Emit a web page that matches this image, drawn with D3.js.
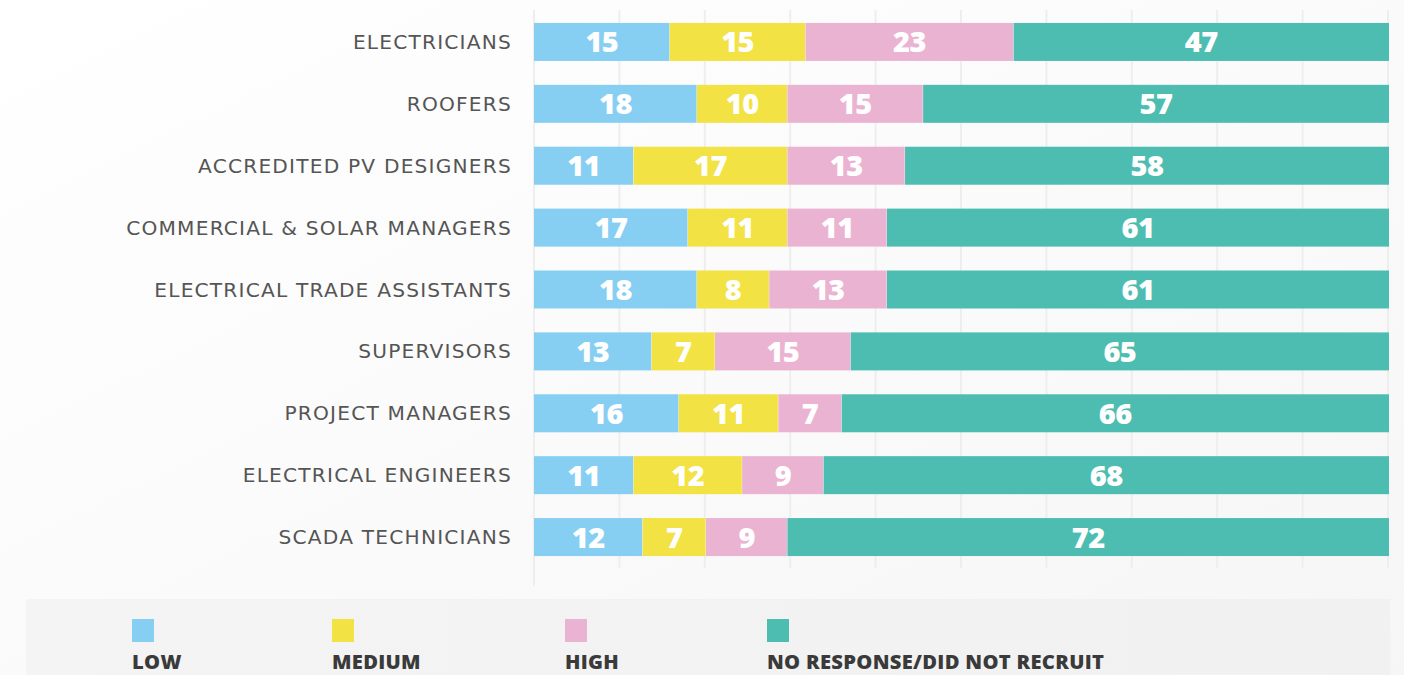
<!DOCTYPE html>
<html><head><meta charset="utf-8">
<script src="https://cdn.jsdelivr.net/npm/d3@7"></script>
<style>
html,body{margin:0;padding:0;background:#fff;overflow:hidden}
svg{display:block}
</style></head>
<body><svg id="c" width="1404" height="675"></svg>
<script>
const categories = ["ELECTRICIANS","ROOFERS","ACCREDITED PV DESIGNERS","COMMERCIAL & SOLAR MANAGERS","ELECTRICAL TRADE ASSISTANTS","SUPERVISORS","PROJECT MANAGERS","ELECTRICAL ENGINEERS","SCADA TECHNICIANS"];
const seriesNames = ["LOW","MEDIUM","HIGH","NO RESPONSE/DID NOT RECRUIT"];
const low = [15,18,11,17,18,13,16,11,12];
const medium = [15,10,17,11,8,7,11,12,7];
const high = [23,15,13,11,13,15,7,9,9];
const noResponse = [47,57,58,61,61,65,66,68,72];
const gridTicks = [0,1,2,3,4,5,6,7,8,9,10];
const colors = ["#87cef3","#f2e244","#ebb3d2","#4dbdb1"];

const svg = d3.select("#c");
const defs = svg.append("defs");
const g1 = defs.append("linearGradient").attr("id","bg").attr("x1","0").attr("y1","0").attr("x2","1").attr("y2","1");
g1.append("stop").attr("offset","0").attr("stop-color","#ffffff");
g1.append("stop").attr("offset","1").attr("stop-color","#f6f6f6");
svg.append("rect").attr("width",1404).attr("height",675).attr("fill","url(#bg)");

const plotLeft = 534, plotRight = 1389;
// value scale as drawn in the source (last segment fills to the plot edge)
const x = d3.scaleLinear().domain([0,100]).range([plotLeft,1439]);
const grid = d3.scaleLinear().domain([0,10]).range([plotLeft,plotRight-1]);
const y = d3.scaleBand().domain(categories).range([11,568]).paddingInner(0.386).paddingOuter(0.193);

function fitText(sel, key, target, baseSize, maxSpacing){
  const node = sel.filter(d=>d===key).node();
  sel.attr("font-size",baseSize).attr("letter-spacing",0);
  const w = node.getComputedTextLength();
  const n = key.length;
  if (w > target) {
    sel.attr("font-size", baseSize*target/w);
  } else {
    let ls = (target-w)/(n-1);
    if (ls > maxSpacing) {
      const size = baseSize*(target-maxSpacing*(n-1))/w;
      sel.attr("font-size",size);
      ls = maxSpacing;
    }
    sel.attr("letter-spacing",ls);
  }
}

// gridlines
svg.append("g").selectAll("line").data(gridTicks).join("line")
  .attr("x1",d=>grid(d)).attr("x2",d=>grid(d))
  .attr("y1",10).attr("y2",(d,i)=> i===0 ? 586 : 568)
  .attr("stroke","#eeeeee").attr("stroke-width",2);

const rows = categories.map((c,i)=>({cat:c, LOW:low[i], MEDIUM:medium[i], HIGH:high[i], "NO RESPONSE/DID NOT RECRUIT":noResponse[i]}));
const stack = d3.stack().keys(seriesNames)(rows);
const x0 = d=>x(d[0]);
const x1 = (d,last)=> last ? plotRight : Math.min(x(d[1]),plotRight);

const layers = svg.append("g").selectAll("g").data(stack).join("g").attr("fill",(d,i)=>colors[i]);
layers.each(function(layer,li){
  const last = li===stack.length-1;
  const g = d3.select(this);
  g.selectAll("rect").data(layer).join("rect")
    .attr("x",x0).attr("width",d=>x1(d,last)-x0(d))
    .attr("y",d=>y(d.data.cat)).attr("height",y.bandwidth());
  if(!last){
    g.selectAll("line").data(layer).join("line")
      .attr("x1",d=>x1(d,last)).attr("x2",d=>x1(d,last))
      .attr("y1",d=>y(d.data.cat)).attr("y2",d=>y(d.data.cat)+y.bandwidth())
      .attr("stroke","#ffffff").attr("stroke-opacity",0.6).attr("stroke-width",1);
  }
  g.selectAll("text").data(layer).join("text")
    .attr("x",d=>(x0(d)+x1(d,last))/2)
    .attr("y",d=>y(d.data.cat)+y.bandwidth()/2+10.5)
    .attr("text-anchor","middle")
    .attr("fill","#ffffff")
    .attr("font-family","'Open Sans', Lato, sans-serif")
    .attr("font-weight",800)
    .attr("font-size",29)
    .attr("letter-spacing",-0.5)
    .text(d=>d[1]-d[0]);
});

// category labels
const catLabels = svg.append("g").selectAll("text").data(categories).join("text")
  .attr("x",512).attr("y",d=>y(d)+y.bandwidth()/2+7)
  .attr("text-anchor","end")
  .attr("fill","#555555")
  .attr("font-family","'DejaVu Sans', sans-serif")
  .text(d=>d);
fitText(catLabels, "COMMERCIAL & SOLAR MANAGERS", 385, 19.5, 1.2);

// legend
const g2 = defs.append("linearGradient").attr("id","lg").attr("x1","0").attr("y1","0").attr("x2","1").attr("y2","0");
g2.append("stop").attr("offset","0").attr("stop-color","#f4f4f4");
g2.append("stop").attr("offset","1").attr("stop-color","#f1f1f1");
svg.append("rect").attr("x",26).attr("y",599).attr("width",1364).attr("height",80).attr("fill","url(#lg)");
const legX = [132,332,565,767];
const leg = svg.append("g").selectAll("g").data(seriesNames).join("g")
  .attr("transform",(d,i)=>`translate(${legX[i]},0)`);
leg.append("rect").attr("x",0).attr("y",619).attr("width",22).attr("height",23).attr("fill",(d,i)=>colors[i]);
const legText = leg.append("text").attr("x",0).attr("y",669)
  .attr("fill","#3a3a3a")
  .attr("font-family","'Open Sans', sans-serif")
  .attr("font-weight",800)
  .text(d=>d);
fitText(legText, "NO RESPONSE/DID NOT RECRUIT", 337, 19, 0.3);
</script></body></html>
